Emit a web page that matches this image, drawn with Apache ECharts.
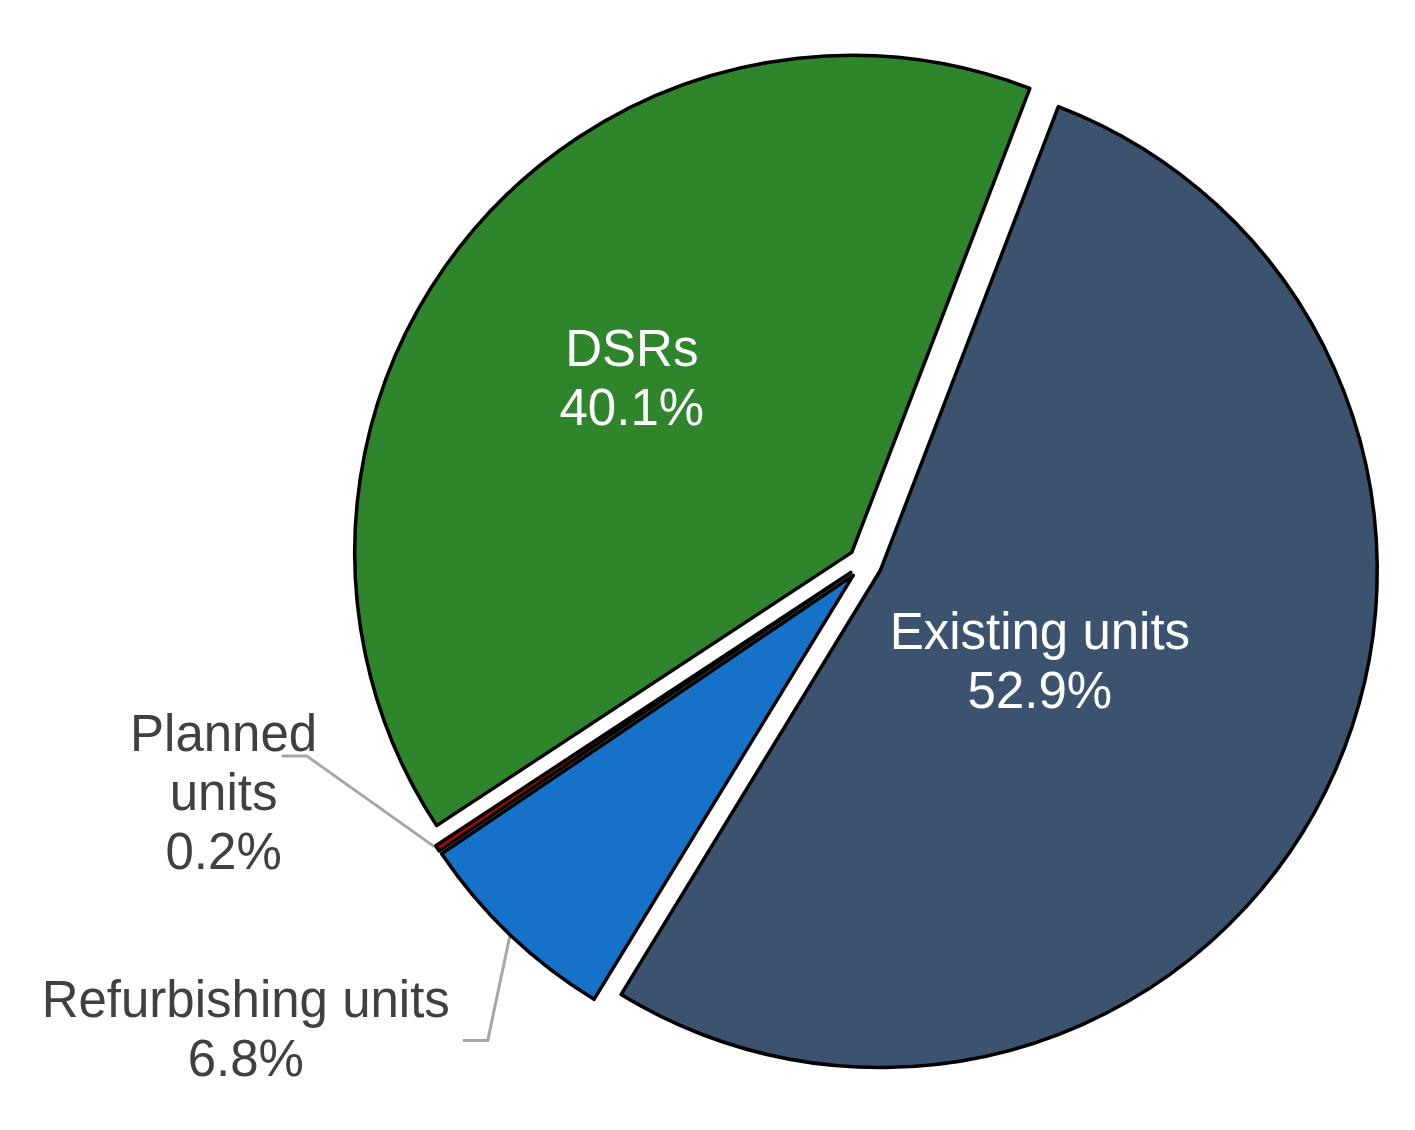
<!DOCTYPE html>
<html>
<head>
<meta charset="utf-8">
<script src="https://cdn.jsdelivr.net/npm/echarts@6/dist/echarts.min.js"></script>
<style>
  html, body { margin: 0; padding: 0; background: #fff; }
  #myChart { width: 1415px; height: 1130px; }
</style>
</head>
<body>
<div id="myChart"></div>
<script>
// 数据
const names = ['Existing units', 'Refurbishing units', 'Planned units', 'DSRs']
const values = [52.9, 6.8, 0.2, 40.1]
const colors = ['#3b536e', '#1671c9', '#c00000', '#2f852c']
const labelTexts = ['Existing units\n{d}%', 'Refurbishing units\n{d}%', 'Planned\nunits\n{d}%', 'DSRs\n{d}%']
const outsideIdx = [1, 2]

// label nudges (inside) / leader lines (outside), relative to library positions
const insideShift = { 0: [-66, -17], 3: [-24, -13] }
const outsideLine = {
  1: { start: [-12, 14], mid: [-34, 118], end: [-59, 118], text: [-276, 110] },
  2: { start: [-17, 8], mid: [-145, -83], end: [-170, -83], text: [-228, -43] }
}

const chart = echarts.init(document.getElementById('myChart'), null, { renderer: 'canvas' })

const baseSeries = {
  type: 'pie',
  center: [865, 563],
  radius: [0, 497],
  startAngle: 69,
  clockwise: true,
  percentPrecision: 1,
  avoidLabelOverlap: false,
  minShowLabelAngle: 0,
  emphasis: { disabled: true },
  label: {
    fontFamily: 'Liberation Sans, Arial, sans-serif',
    fontSize: 51,
    lineHeight: 59,
    align: 'center'
  }
}

// 扇区 + 内部标签 (exploded)
const sliceData = names.map((n, i) => {
  const outside = outsideIdx.indexOf(i) >= 0
  return {
    name: n,
    value: values[i],
    selected: true,
    itemStyle: { color: colors[i] },
    label: {
      show: !outside,
      position: 'inside',
      formatter: labelTexts[i],
      color: '#ffffff'
    },
    labelLine: { show: false }
  }
})

// 外部标签 (transparent copy, only labels and leader lines)
const outerData = names.map((n, i) => {
  const outside = outsideIdx.indexOf(i) >= 0
  return {
    name: n,
    value: values[i],
    label: {
      show: outside,
      position: 'outside',
      formatter: labelTexts[i],
      color: '#404040'
    },
    labelLine: { show: outside }
  }
})

chart.setOption({
  backgroundColor: '#ffffff',
  animation: false,
  series: [
    Object.assign({}, baseSeries, {
      name: 'slices',
      selectedMode: 'multiple',
      selectedOffset: 17,
      itemStyle: { borderColor: '#000', borderWidth: 3.5 },
      labelLayout: function (params) {
        const s = insideShift[params.dataIndex]
        return s ? { dx: s[0], dy: s[1] } : {}
      },
      data: sliceData
    }),
    Object.assign({}, baseSeries, {
      name: 'labels',
      silent: true,
      selectedMode: false,
      itemStyle: { color: 'rgba(0,0,0,0)', borderWidth: 0 },
      labelLine: {
        length: 60,
        length2: 25,
        lineStyle: { color: '#a6a6a6', width: 3 }
      },
      labelLayout: function (params) {
        const o = outsideLine[params.dataIndex]
        if (!o || !params.labelLinePoints) return {}
        const p0 = params.labelLinePoints[0]
        const pt = d => [p0[0] + d[0], p0[1] + d[1]]
        return {
          x: p0[0] + o.text[0],
          y: p0[1] + o.text[1],
          align: 'center',
          verticalAlign: 'middle',
          labelLinePoints: [pt(o.start), pt(o.mid), pt(o.end)]
        }
      },
      data: outerData
    })
  ]
})
</script>
</body>
</html>
